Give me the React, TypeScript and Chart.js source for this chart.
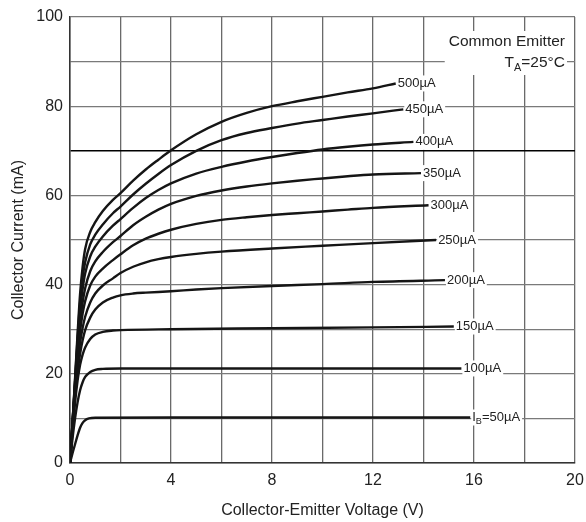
import React, { useEffect, useRef } from "react";
import { Chart, registerables } from "chart.js";

Chart.register(...registerables);

// Collector-emitter voltage (V), collector current (mA) pairs for each base current
const ib50: [number, number][] = [[0, 0], [0.1, 2.2], [0.2, 4.2], [0.3, 6.2], [0.4, 7.9], [0.5, 9], [0.6, 9.6], [0.75, 10], [1, 10.15], [4, 10.2], [10, 10.2], [15.85, 10.2]];
const ib100: [number, number][] = [[0, 0], [0.1, 5.5], [0.2, 10], [0.3, 13.6], [0.4, 16.3], [0.5, 18.1], [0.6, 19.3], [0.8, 20.4], [1.0, 20.9], [1.3, 21.1], [2, 21.2], [8, 21.2], [15.5, 21.2]];
const ib150: [number, number][] = [[0, 0], [0.1, 7], [0.2, 13.5], [0.3, 18.5], [0.4, 22], [0.5, 24.3], [0.6, 25.9], [0.8, 27.8], [1.0, 28.8], [1.3, 29.4], [1.7, 29.7], [2, 29.8], [4, 30], [8, 30.2], [12, 30.4], [15.2, 30.6]];
const ib200: [number, number][] = [[0, 0], [0.1, 8], [0.2, 15.5], [0.3, 20.5], [0.4, 24.5], [0.5, 27.5], [0.6, 29.8], [0.8, 32.6], [1.0, 34.4], [1.3, 36], [1.7, 37.1], [2, 37.6], [2.5, 38], [3, 38.2], [4, 38.5], [5, 38.9], [6, 39.2], [8, 39.7], [10, 40.1], [12, 40.6], [14.85, 41]];
const ib250: [number, number][] = [[0, 0], [0.1, 8.5], [0.2, 16.5], [0.3, 22.5], [0.4, 27], [0.5, 30.3], [0.6, 32.8], [0.8, 36], [1.0, 38], [1.3, 39.8], [1.7, 41.4], [2, 42.6], [2.5, 44], [3, 45], [3.5, 45.7], [4, 46.2], [5, 46.9], [6, 47.4], [8, 48.1], [10, 48.7], [12, 49.3], [14.5, 50]];
const ib300: [number, number][] = [[0, 0], [0.1, 8.5], [0.2, 17], [0.3, 24], [0.4, 29.5], [0.5, 33.5], [0.6, 36.3], [0.8, 39.8], [1.0, 41.8], [1.3, 43.6], [1.7, 45.5], [2, 46.8], [2.5, 48.8], [3, 50.3], [3.5, 51.4], [4, 52.3], [5, 53.6], [6, 54.5], [7, 55.1], [8, 55.6], [9, 56], [10, 56.4], [11, 56.8], [12, 57.2], [14.2, 57.8]];
const ib350: [number, number][] = [[0, 0], [0.1, 9], [0.2, 17.5], [0.3, 25.5], [0.4, 31.5], [0.5, 36], [0.6, 39.2], [0.8, 43], [1.0, 45.2], [1.3, 47.3], [1.7, 49.5], [2, 50.9], [2.5, 53.3], [3, 55.2], [3.5, 56.8], [4, 58.1], [5, 59.9], [6, 61.1], [7, 62], [8, 62.7], [9, 63.3], [10, 63.8], [11, 64.3], [12, 64.7], [13.9, 65]];
const ib400: [number, number][] = [[0, 0], [0.1, 9], [0.2, 18], [0.3, 27], [0.4, 34], [0.5, 39], [0.6, 42.5], [0.8, 46.3], [1.0, 48.5], [1.3, 50.8], [1.7, 53.2], [2, 54.7], [2.5, 57.2], [3, 59.4], [3.5, 61.2], [4, 62.7], [5, 64.9], [6, 66.4], [7, 67.6], [8, 68.6], [9, 69.5], [10, 70.3], [11, 70.9], [12, 71.4], [13.6, 72]];
const ib450: [number, number][] = [[0, 0], [0.1, 9], [0.2, 18.5], [0.3, 28], [0.4, 36], [0.5, 41.5], [0.6, 45], [0.8, 49], [1.0, 51.2], [1.3, 53.5], [1.7, 56], [2, 57.5], [2.5, 60.2], [3, 62.6], [3.5, 64.8], [4, 66.8], [5, 70], [6, 72.4], [7, 74], [8, 75.1], [9, 76.1], [10, 76.9], [11, 77.7], [12, 78.4], [13.2, 79.3]];
const ib500: [number, number][] = [[0, 0], [0.1, 9], [0.2, 19], [0.3, 29], [0.4, 38], [0.5, 44], [0.6, 48], [0.8, 51.8], [1.0, 54], [1.3, 56.5], [1.7, 59], [2, 60.5], [2.5, 63.3], [3, 65.8], [3.5, 68], [4, 70.1], [5, 73.7], [6, 76.5], [7, 78.5], [8, 80], [9, 81.1], [10, 82.1], [11, 83.1], [12, 84], [12.9, 85.1]];

const seriesData = [ib50, ib100, ib150, ib200, ib250, ib300, ib350, ib400, ib450, ib500];
// "_X" marks a one-letter subscript
const seriesLabels = ["I_B=50µA", "100µA", "150µA", "200µA", "250µA", "300µA", "350µA", "400µA", "450µA", "500µA"];
const noteLines = ["Common Emitter", "T_A=25°C"];

const xTitle = "Collector-Emitter Voltage (V)";
const yTitle = "Collector Current (mA)";

const FONT = "'Liberation Sans', Arial, Helvetica, sans-serif";

function parseRich(text: string) {
  const parts: { t: string; sub: boolean }[] = [];
  let i = 0;
  let buf = "";
  while (i < text.length) {
    if (text[i] === "_" && i + 1 < text.length) {
      if (buf) parts.push({ t: buf, sub: false });
      buf = "";
      parts.push({ t: text[i + 1], sub: true });
      i += 2;
    } else {
      buf += text[i];
      i++;
    }
  }
  if (buf) parts.push({ t: buf, sub: false });
  return parts;
}

function measureRich(ctx: CanvasRenderingContext2D, text: string, size: number) {
  let w = 0;
  for (const p of parseRich(text)) {
    ctx.font = `${p.sub ? size * 0.7 : size}px ${FONT}`;
    w += ctx.measureText(p.t).width;
  }
  return w;
}

function drawRich(ctx: CanvasRenderingContext2D, text: string, x: number, y: number, size: number) {
  let cx = x;
  ctx.textBaseline = "middle";
  ctx.textAlign = "left";
  for (const p of parseRich(text)) {
    const s = p.sub ? size * 0.7 : size;
    ctx.font = `${s}px ${FONT}`;
    ctx.fillText(p.t, cx, p.sub ? y + size * 0.3 : y);
    cx += ctx.measureText(p.t).width;
  }
}

const labelPlugin = {
  id: "curveLabels",
  afterDatasetsDraw(chart: any) {
    const ctx: CanvasRenderingContext2D = chart.ctx;
    const xs = chart.scales.x;
    const ys = chart.scales.y;
    ctx.save();
    const size = 13;
    seriesData.forEach((pts, i) => {
      const last = pts[pts.length - 1];
      const px = xs.getPixelForValue(last[0]);
      const py = ys.getPixelForValue(last[1]);
      const w = measureRich(ctx, seriesLabels[i], size);
      ctx.fillStyle = "#fff";
      ctx.fillRect(px + 1, py - 8, w + 3, 16);
      ctx.fillStyle = "#222";
      drawRich(ctx, seriesLabels[i], px + 2, py, size);
    });
    // note box in the top-right corner
    const area = chart.chartArea;
    const right = area.right - 10;
    const nsize = 15.5;
    const w0 = Math.max(...noteLines.map((t) => measureRich(ctx, t, nsize)));
    ctx.fillStyle = "#fff";
    ctx.fillRect(right - w0 - 4, area.top + 14, w0 + 6, 44);
    ctx.fillStyle = "#222";
    noteLines.forEach((t, k) => {
      const w = measureRich(ctx, t, nsize);
      drawRich(ctx, t, right - w, area.top + 25 + k * 21, nsize);
    });
    ctx.restore();
  },
};

export default function App() {
  const ref = useRef<HTMLCanvasElement>(null);
  useEffect(() => {
    if (!ref.current) return;
    const chart = new Chart(ref.current, {
      type: "line",
      data: {
        datasets: seriesData.map((pts, i) => ({
          label: seriesLabels[i],
          data: pts.map(([x, y]) => ({ x, y })),
          borderColor: "#151515",
          borderWidth: 2.4,
          pointRadius: 0,
          fill: false,
          cubicInterpolationMode: "monotone" as const,
        })),
      },
      options: {
        animation: false,
        responsive: false,
        devicePixelRatio: 1,
        layout: { padding: { top: 17, right: 11, left: 0, bottom: 0 } },
        plugins: { legend: { display: false }, tooltip: { enabled: false } },
        scales: {
          x: {
            type: "linear",
            min: 0,
            max: 20,
            ticks: {
              stepSize: 2,
              autoSkip: false,
              maxRotation: 0,
              padding: 8,
              color: "#222",
              font: { size: 16, family: FONT },
              callback: (v: any) => (Number(v) % 4 === 0 ? String(v) : ""),
            },
            grid: { color: "#6a6a6a", lineWidth: 1.3, drawTicks: false },
            border: { color: "#333", width: 1.5 },
            title: {
              display: true,
              text: xTitle,
              color: "#222",
              font: { size: 16, family: FONT },
              padding: { top: 0, bottom: 2 },
            },
            afterFit: (s: any) => {
              s.height = 59;
              s.paddingLeft = 0;
              s.paddingRight = 0;
            },
          },
          y: {
            type: "linear",
            min: 0,
            max: 100,
            ticks: {
              stepSize: 10,
              autoSkip: false,
              padding: 7,
              color: "#222",
              font: { size: 16, family: FONT },
              callback: (v: any) => (Number(v) % 20 === 0 ? String(v) : ""),
            },
            grid: {
              color: (c: any) => (c.tick && c.tick.value === 70 ? "#000" : "#7a7a7a"),
              lineWidth: (c: any) => (c.tick && c.tick.value === 70 ? 1.6 : 1.3),
              drawTicks: false,
            },
            border: { color: "#333", width: 1.5 },
            title: {
              display: true,
              text: yTitle,
              color: "#222",
              font: { size: 16, family: FONT },
              padding: { top: 9, bottom: 0 },
            },
            afterFit: (s: any) => {
              s.width = 70;
              s.paddingTop = 0;
              s.paddingBottom = 0;
            },
          },
        },
      },
      plugins: [labelPlugin],
    });
    return () => chart.destroy();
  }, []);
  return (
    <div style={{ position: "fixed", left: 0, top: 0, width: 586, height: 522, background: "#fff" }}>
      <canvas ref={ref} width={586} height={522} style={{ width: 586, height: 522 }} />
    </div>
  );
}
